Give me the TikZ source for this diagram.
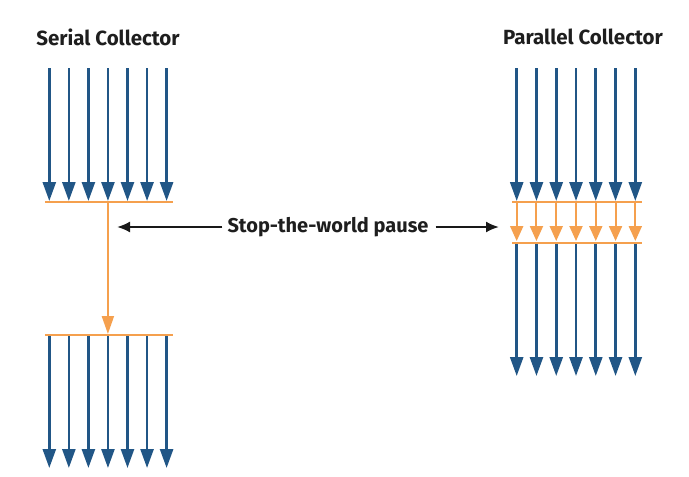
\documentclass[tikz,border=0pt]{standalone}
\usepackage{fontspec}
\setmainfont{Fira Sans}
\usetikzlibrary{arrows.meta}
\definecolor{gcblue}{RGB}{33,86,134}
\definecolor{gcorange}{RGB}{245,160,78}
\definecolor{gctext}{RGB}{30,30,30}
\tikzset{
  thread/.style={draw=gcblue, line width=2.6pt, -{Triangle[length=19pt,width=13pt]}},
  pausearrow/.style={draw=gcorange, line width=2pt, -{Triangle[length=18pt,width=12pt]}},
  shortpause/.style={draw=gcorange, line width=2pt, -{Triangle[length=15pt,width=13pt]}},
  barline/.style={draw=gcorange, line width=2.2pt},
  title/.style={font=\bfseries\fontsize{20.5}{24}\selectfont, text=gctext, inner sep=0pt},
  label/.style={font=\bfseries\fontsize{20}{24}\selectfont, text=gctext, inner sep=0pt},
  pointer/.style={draw=black!90, line width=2pt, -{Latex[length=13pt,width=11pt]}}
}
\begin{document}
\begin{tikzpicture}[x=1pt,y=-1pt]
\useasboundingbox[fill=white] (0,0) rectangle (689,477);
% titles
\node[title] (st) at (108,37) {Serial Collector};
\node[title] (pt) at (583,37) {Parallel Collector};
% serial collector
\coordinate (sb1L) at (45,202); \coordinate (sb1R) at (173,202);
\coordinate (sb2L) at (45,335); \coordinate (sb2R) at (173,335);
\foreach \i [count=\k] in {0,...,6} {
  \coordinate (sa\k) at ({49.3+19.55*\i},68);
  \coordinate (sz\k) at ({49.3+19.55*\i},201);
  \coordinate (sc\k) at ({49.3+19.55*\i},336);
  \coordinate (sd\k) at ({49.3+19.55*\i},468);
}
\foreach \k in {1,...,7} { \draw[thread] (sa\k) -- (sz\k); \draw[thread] (sc\k) -- (sd\k); }
\draw[barline] (sb1L) -- (sb1R);
\draw[barline] (sb2L) -- (sb2R);
\coordinate (sm) at (107.9,202);
\coordinate (sn) at (107.9,334);
\draw[pausearrow] (sm) -- (sn);
% parallel collector
\coordinate (pb1L) at (512,202); \coordinate (pb1R) at (642,202);
\coordinate (pb2L) at (512,243); \coordinate (pb2R) at (642,243);
\foreach \i [count=\k] in {0,...,6} {
  \coordinate (pa\k) at ({516.7+19.77*\i},68);
  \coordinate (pz\k) at ({516.7+19.77*\i},201);
  \coordinate (pm\k) at ({516.7+19.77*\i},203);
  \coordinate (pn\k) at ({516.7+19.77*\i},241);
  \coordinate (pc\k) at ({516.7+19.77*\i},244);
  \coordinate (pd\k) at ({516.7+19.77*\i},376);
}
\foreach \k in {1,...,7} {
  \draw[thread] (pa\k) -- (pz\k);
  \draw[shortpause] (pm\k) -- (pn\k);
  \draw[thread] (pc\k) -- (pd\k);
}
\draw[barline] (pb1L) -- (pb1R);
\draw[barline] (pb2L) -- (pb2R);
% label
\node[label] (stw) at (328,227) {Stop-the-world pause};
\coordinate (lt) at (117,227);
\coordinate (rt) at (499,227);
\draw[pointer] ([xshift=-5pt]stw.west) -- (lt);
\draw[pointer] ([xshift=7pt]stw.east) -- (rt);
\end{tikzpicture}
\end{document}
